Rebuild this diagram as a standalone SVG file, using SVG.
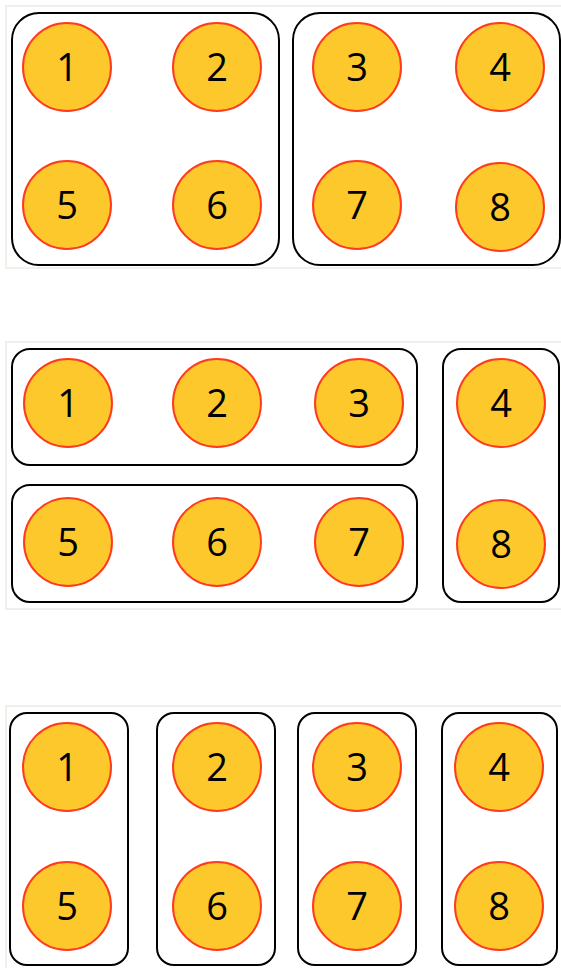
<svg xmlns="http://www.w3.org/2000/svg" width="561" height="968" viewBox="0 0 561 968">
<style>
.frame{fill:#fff;stroke:#ecece4;stroke-width:1.5}
.box{fill:none;stroke:#000;stroke-width:2}
.node circle{fill:#fdc82c;stroke:#ff3b1f;stroke-width:2}
.node text{font-family:"Open Sans","Liberation Sans",sans-serif;font-size:38px;fill:#000;text-anchor:middle}
</style>
<rect width="561" height="968" fill="#fff"/>
<g id="frames">
<rect class="frame" x="6" y="6" width="560" height="262"/>
<rect class="frame" x="6" y="342" width="560" height="267"/>
<rect class="frame" x="6" y="706" width="560" height="270"/>
</g>
<g id="groups">
<rect class="box" x="12" y="13" width="267" height="252" rx="27"/>
<rect class="box" x="293" y="13" width="267" height="252" rx="27"/>
<rect class="box" x="12" y="349" width="405" height="116" rx="18"/>
<rect class="box" x="12" y="485" width="405" height="117" rx="18"/>
<rect class="box" x="443" y="349" width="116" height="253" rx="18"/>
<rect class="box" x="10" y="713" width="118" height="252" rx="17"/>
<rect class="box" x="157" y="713" width="118" height="252" rx="17"/>
<rect class="box" x="298" y="713" width="118" height="252" rx="17"/>
<rect class="box" x="442" y="713" width="115" height="252" rx="17"/>
</g>
<g id="connectors"/>
<g id="p1n1" class="node"><circle cx="67" cy="67" r="44"/><text x="67" y="80.5">1</text></g>
<g id="p1n2" class="node"><circle cx="217" cy="67" r="44"/><text x="217" y="80.5">2</text></g>
<g id="p1n3" class="node"><circle cx="357" cy="67" r="44"/><text x="357" y="80.5">3</text></g>
<g id="p1n4" class="node"><circle cx="500" cy="67" r="44"/><text x="500" y="80.5">4</text></g>
<g id="p1n5" class="node"><circle cx="67" cy="205" r="44"/><text x="67" y="218.5">5</text></g>
<g id="p1n6" class="node"><circle cx="217" cy="205" r="44"/><text x="217" y="218.5">6</text></g>
<g id="p1n7" class="node"><circle cx="357" cy="205" r="44"/><text x="357" y="218.5">7</text></g>
<g id="p1n8" class="node"><circle cx="500" cy="207" r="44"/><text x="500" y="220.5">8</text></g>
<g id="p2n1" class="node"><circle cx="68" cy="403" r="44"/><text x="68" y="416.5">1</text></g>
<g id="p2n2" class="node"><circle cx="217" cy="403" r="44"/><text x="217" y="416.5">2</text></g>
<g id="p2n3" class="node"><circle cx="359" cy="403" r="44"/><text x="359" y="416.5">3</text></g>
<g id="p2n4" class="node"><circle cx="501" cy="403" r="44"/><text x="501" y="416.5">4</text></g>
<g id="p2n5" class="node"><circle cx="68" cy="542" r="44"/><text x="68" y="555.5">5</text></g>
<g id="p2n6" class="node"><circle cx="217" cy="542" r="44"/><text x="217" y="555.5">6</text></g>
<g id="p2n7" class="node"><circle cx="359" cy="542" r="44"/><text x="359" y="555.5">7</text></g>
<g id="p2n8" class="node"><circle cx="501" cy="544" r="44"/><text x="501" y="557.5">8</text></g>
<g id="p3n1" class="node"><circle cx="67" cy="767" r="44"/><text x="67" y="780.5">1</text></g>
<g id="p3n2" class="node"><circle cx="217" cy="767" r="44"/><text x="217" y="780.5">2</text></g>
<g id="p3n3" class="node"><circle cx="357" cy="767" r="44"/><text x="357" y="780.5">3</text></g>
<g id="p3n4" class="node"><circle cx="499" cy="767" r="44"/><text x="499" y="780.5">4</text></g>
<g id="p3n5" class="node"><circle cx="67" cy="906" r="44"/><text x="67" y="919.5">5</text></g>
<g id="p3n6" class="node"><circle cx="217" cy="906" r="44"/><text x="217" y="919.5">6</text></g>
<g id="p3n7" class="node"><circle cx="357" cy="906" r="44"/><text x="357" y="919.5">7</text></g>
<g id="p3n8" class="node"><circle cx="499" cy="906" r="44"/><text x="499" y="919.5">8</text></g>
</svg>
